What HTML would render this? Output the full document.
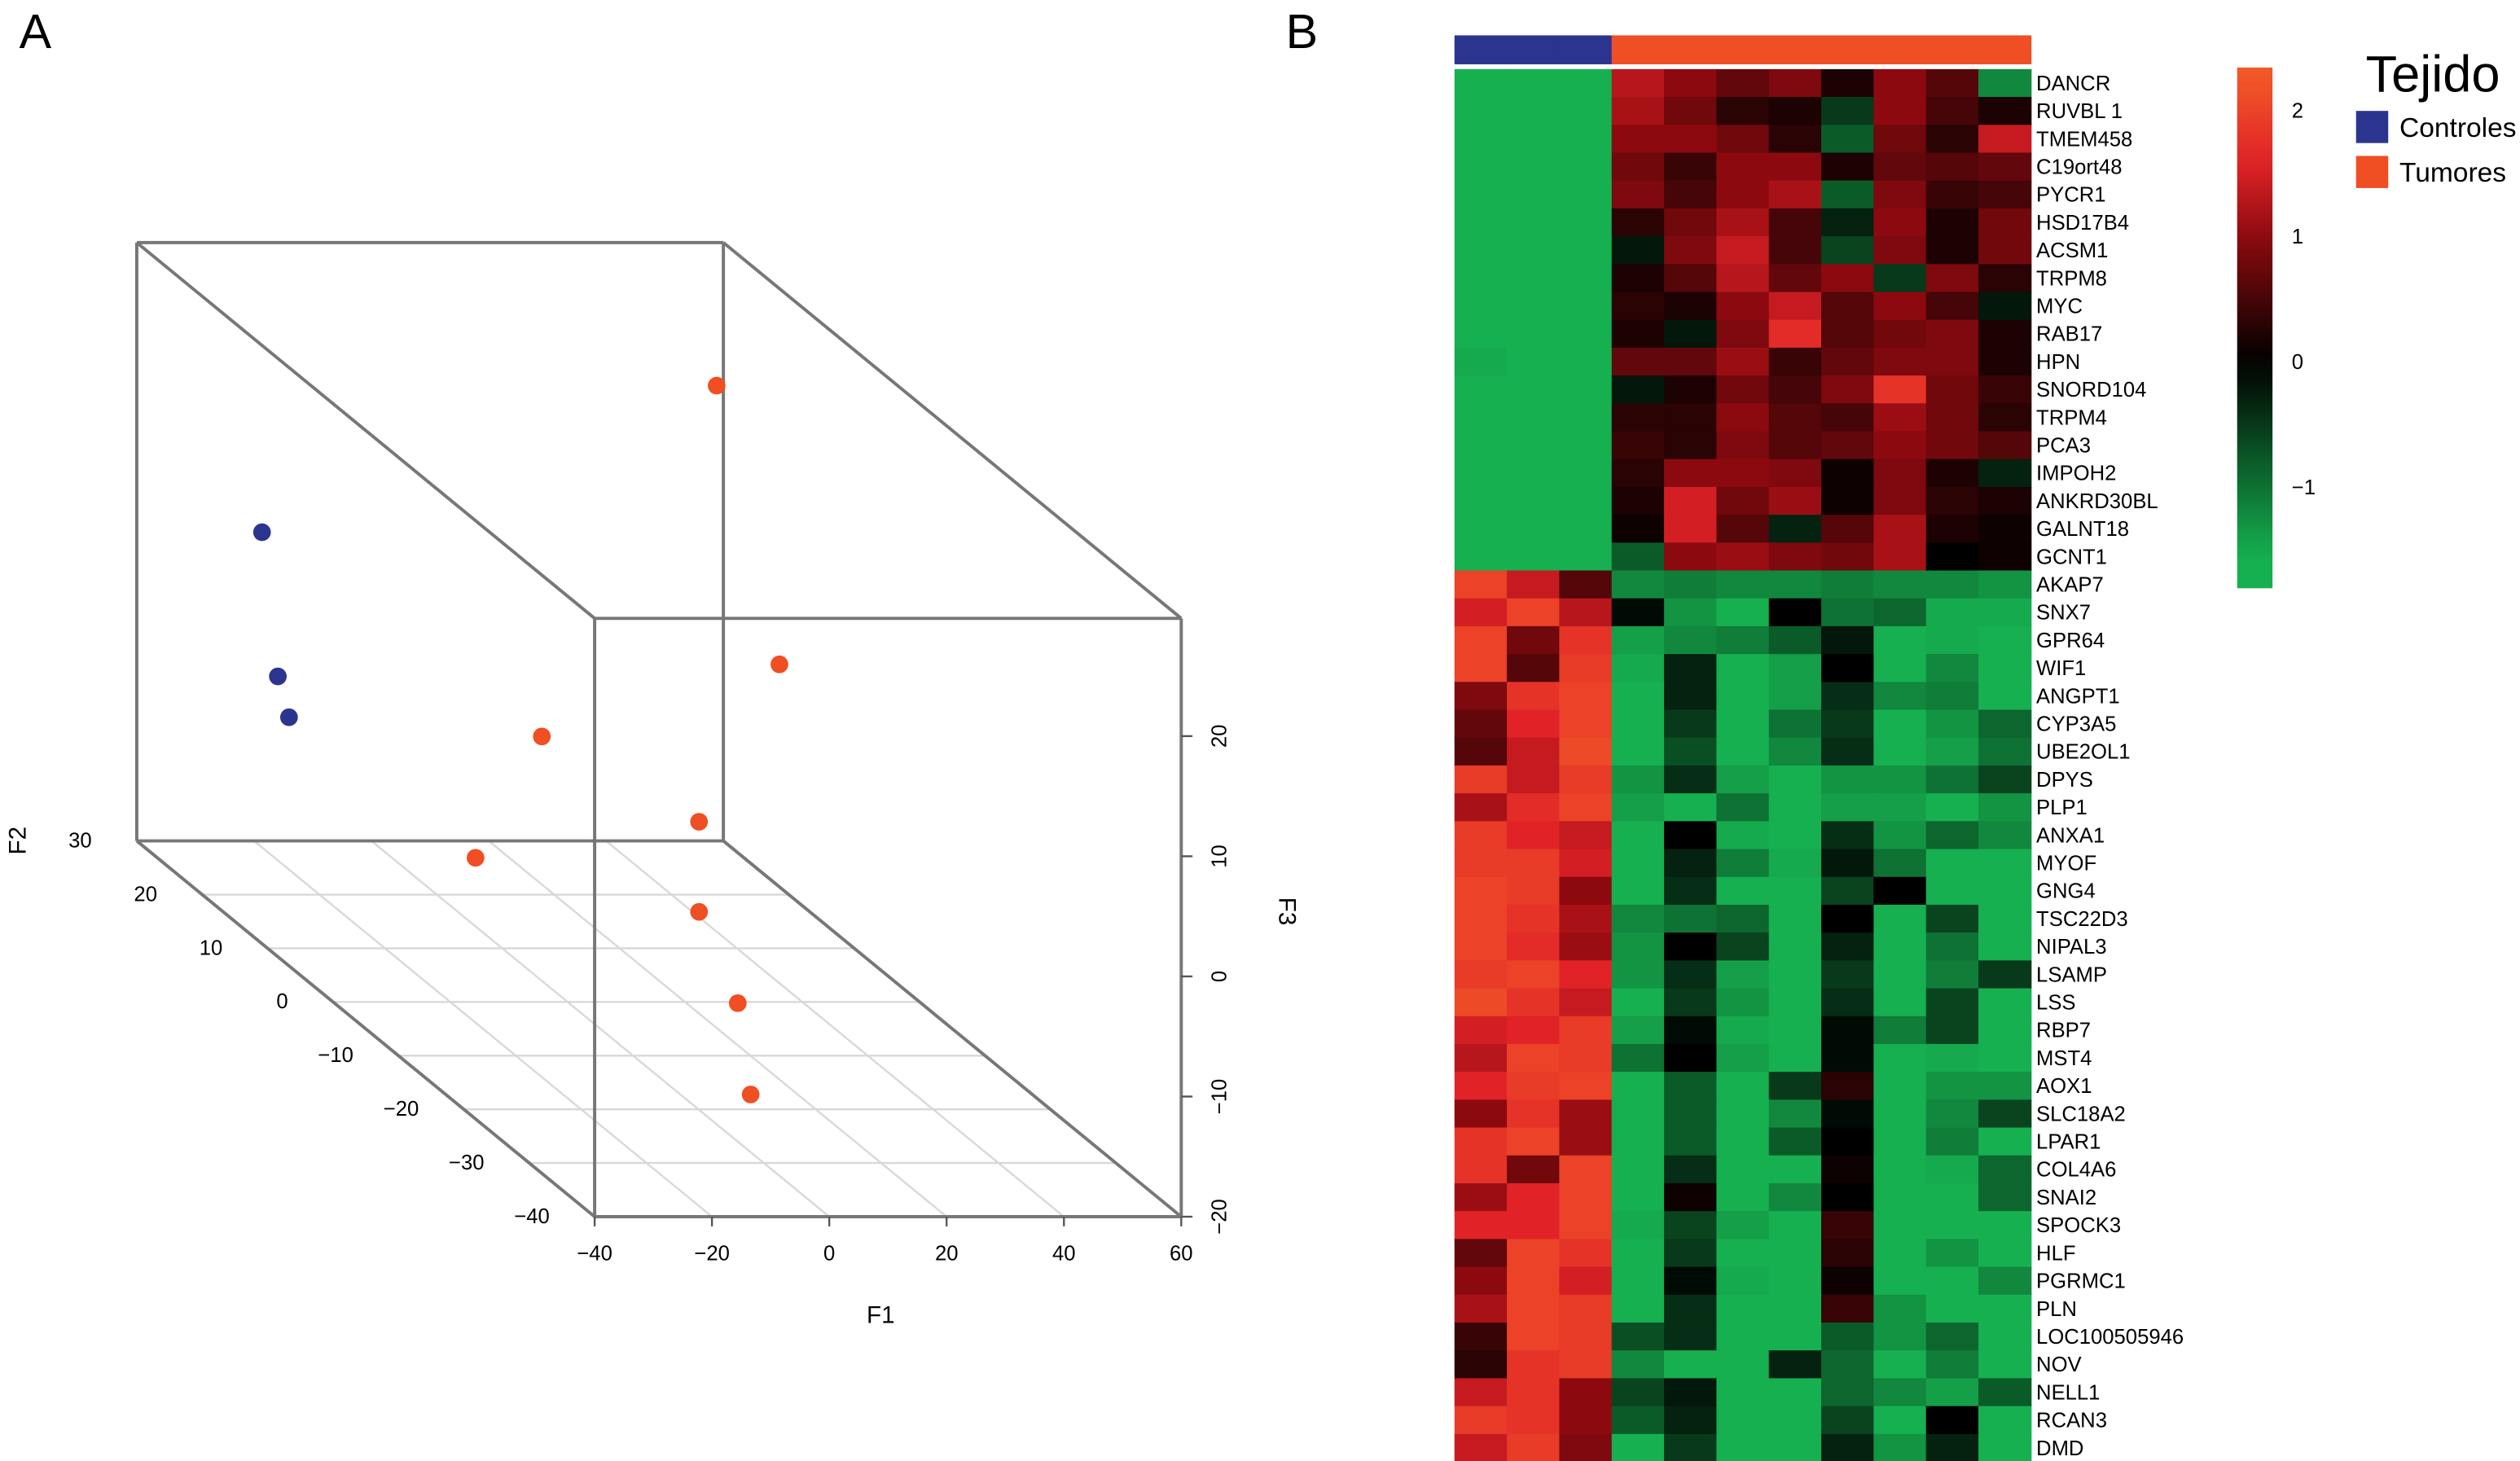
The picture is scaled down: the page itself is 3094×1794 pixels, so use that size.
<!DOCTYPE html>
<html><head><meta charset="utf-8">
<style>
html,body{margin:0;padding:0;background:#fff;}
svg{display:block;}
text{font-family:"Liberation Sans",Arial,sans-serif;}
</style></head>
<body>
<svg id="fig" width="3094" height="1794" viewBox="0 0 1568 909" preserveAspectRatio="none" xmlns="http://www.w3.org/2000/svg">
<rect width="1568" height="909" fill="#fff"/>
<text x="12" y="30" font-size="30">A</text>
<text x="800" y="30" font-size="30">B</text>
<g id="pca"></g>
<g id="heat"></g>
</svg>
<script>
// ---------- PCA data ----------
const redF1 = [25.4, 36.1, -4.4, 22.4, -15.7, 22.4, 29.0, 31.2];
const redF2 = [0, 0, 0, 0, 0, 0, 0, 0];
const redF3 = [31.3, 8.1, 2.1, -5.0, -8.0, -12.5, -20.1, -27.7];
const blueF1 = [-52.1, -49.4, -47.5];
const blueF2 = [0, 0, 0];
const blueF3 = [19.1, 7.1, 3.7];
const f1Ticks = [-40, -20, 0, 20, 40, 60];
const f2Ticks = [30, 20, 10, 0, -10, -20, -30, -40];
const f3Ticks = [20, 10, 0, -10, -20];

// ---------- Heatmap data ----------
const genes = ["DANCR","RUVBL 1","TMEM458","C19ort48","PYCR1","HSD17B4","ACSM1","TRPM8","MYC","RAB17","HPN","SNORD104","TRPM4","PCA3","IMPOH2","ANKRD30BL","GALNT18","GCNT1","AKAP7","SNX7","GPR64","WIF1","ANGPT1","CYP3A5","UBE2OL1","DPYS","PLP1","ANXA1","MYOF","GNG4","TSC22D3","NIPAL3","LSAMP","LSS","RBP7","MST4","AOX1","SLC18A2","LPAR1","COL4A6","SNAI2","SPOCK3","HLF","PGRMC1","PLN","LOC100505946","NOV","NELL1","RCAN3","DMD"];
const groups = ["C","C","C","T","T","T","T","T","T","T","T"];
const values = [
[-1.6,-1.6,-1.6, 1.3,1.0,0.7,0.9,0.2,1.0,0.6,-1.2],
[-1.6,-1.6,-1.6, 1.2,0.8,0.3,0.2,-0.5,1.0,0.5,0.2],
[-1.6,-1.6,-1.6, 1.0,1.0,0.8,0.3,-0.8,0.8,0.3,1.4],
[-1.6,-1.6,-1.7, 0.8,0.4,1.0,1.0,0.2,0.7,0.6,0.7],
[-1.6,-1.6,-1.6, 0.9,0.5,1.0,1.2,-0.8,0.9,0.4,0.5],
[-1.6,-1.6,-1.6, 0.3,0.8,1.2,0.5,-0.3,1.0,0.2,0.8],
[-1.6,-1.6,-1.6, -0.2,0.9,1.4,0.5,-0.6,0.9,0.2,0.8],
[-1.6,-1.6,-1.6, 0.2,0.6,1.3,0.7,1.0,-0.5,0.9,0.3],
[-1.6,-1.6,-1.6, 0.3,0.2,1.0,1.4,0.6,1.0,0.5,-0.2],
[-1.6,-1.6,-1.6, 0.2,-0.2,0.9,1.7,0.6,0.8,0.9,0.2],
[-1.5,-1.6,-1.6, 0.7,0.7,1.1,0.4,0.7,0.9,0.9,0.2],
[-1.6,-1.6,-1.6, -0.2,0.2,0.8,0.5,0.9,1.8,0.8,0.4],
[-1.6,-1.6,-1.6, 0.3,0.3,1.0,0.6,0.5,1.1,0.8,0.3],
[-1.6,-1.6,-1.6, 0.4,0.3,0.9,0.6,0.7,1.0,0.8,0.6],
[-1.6,-1.6,-1.6, 0.3,1.0,1.0,0.9,0.1,0.9,0.2,-0.3],
[-1.6,-1.6,-1.6, 0.2,1.5,0.8,1.1,0.1,0.9,0.3,0.2],
[-1.6,-1.6,-1.6, 0.1,1.5,0.6,-0.3,0.6,1.2,0.2,0.1],
[-1.6,-1.6,-1.6, -0.8,1.0,1.1,0.9,0.8,1.2,0.0,0.1],
[2.0,1.4,0.6, -1.2,-1.1,-1.2,-1.2,-1.1,-1.2,-1.2,-1.3],
[1.5,2.0,1.3, -0.1,-1.3,-1.6,0.0,-1.0,-0.9,-1.5,-1.5],
[2.0,0.8,1.8, -1.4,-1.2,-1.1,-0.8,-0.2,-1.6,-1.5,-1.6],
[2.0,0.6,1.9, -1.5,-0.3,-1.6,-1.4,0.0,-1.6,-1.2,-1.6],
[0.9,1.8,2.0, -1.6,-0.3,-1.6,-1.4,-0.4,-1.2,-1.1,-1.6],
[0.7,1.6,2.0, -1.6,-0.5,-1.6,-1.0,-0.5,-1.6,-1.3,-0.9],
[0.6,1.4,2.1, -1.6,-0.7,-1.6,-1.2,-0.4,-1.6,-1.4,-1.0],
[1.9,1.4,1.9, -1.3,-0.4,-1.4,-1.6,-1.3,-1.3,-1.0,-0.6],
[1.2,1.7,2.0, -1.4,-1.6,-1.0,-1.6,-1.4,-1.4,-1.6,-1.3],
[1.9,1.6,1.4, -1.6,0.0,-1.5,-1.6,-0.4,-1.3,-0.9,-1.2],
[1.9,1.9,1.5, -1.6,-0.3,-1.1,-1.5,-0.2,-1.0,-1.6,-1.6],
[2.0,1.9,1.0, -1.6,-0.4,-1.6,-1.6,-0.6,0.0,-1.6,-1.6],
[2.0,1.8,1.2, -1.2,-1.0,-0.9,-1.6,0.0,-1.6,-0.6,-1.6],
[2.0,1.7,1.1, -1.3,0.0,-0.6,-1.6,-0.3,-1.6,-1.0,-1.6],
[1.9,2.0,1.6, -1.3,-0.4,-1.4,-1.6,-0.5,-1.6,-1.1,-0.5],
[2.1,1.8,1.4, -1.6,-0.5,-1.3,-1.6,-0.4,-1.6,-0.6,-1.6],
[1.5,1.6,1.9, -1.4,-0.1,-1.5,-1.6,-0.1,-1.1,-0.6,-1.6],
[1.3,2.0,1.9, -1.0,0.0,-1.4,-1.6,-0.1,-1.6,-1.5,-1.6],
[1.6,1.9,2.0, -1.6,-0.8,-1.6,-0.5,0.3,-1.6,-1.3,-1.3],
[1.0,1.8,1.1, -1.6,-0.8,-1.6,-1.2,-0.1,-1.6,-1.2,-0.6],
[1.8,2.0,1.1, -1.6,-0.8,-1.6,-0.8,0.0,-1.6,-1.1,-1.6],
[1.8,0.8,2.0, -1.6,-0.4,-1.6,-1.6,0.1,-1.6,-1.5,-0.9],
[1.1,1.6,2.0, -1.6,0.1,-1.6,-1.2,0.0,-1.6,-1.6,-0.9],
[1.6,1.6,2.0, -1.5,-0.6,-1.4,-1.6,0.4,-1.6,-1.6,-1.6],
[0.7,2.0,1.8, -1.6,-0.5,-1.6,-1.6,0.3,-1.6,-1.3,-1.6],
[1.0,2.0,1.5, -1.6,-0.1,-1.5,-1.6,0.1,-1.6,-1.6,-1.2],
[1.2,2.0,1.9, -1.6,-0.4,-1.6,-1.6,0.4,-1.3,-1.6,-1.6],
[0.4,2.0,1.9, -0.7,-0.4,-1.6,-1.6,-0.8,-1.3,-0.9,-1.6],
[0.3,1.8,1.9, -1.2,-1.6,-1.6,-0.3,-0.9,-1.6,-1.1,-1.6],
[1.4,1.8,1.0, -0.6,-0.2,-1.6,-1.6,-0.9,-1.2,-1.4,-0.8],
[1.9,1.8,1.0, -0.8,-0.3,-1.6,-1.6,-0.6,-1.6,0.0,-1.6],
[1.4,1.9,0.9, -1.6,-0.5,-1.6,-1.6,-0.3,-1.3,-0.3,-1.6]
];
const legendTicks = [2, 1, 0, -1];
const legendLabels = ["2", "1", "0", "\u22121"];

const NS = "http://www.w3.org/2000/svg";
function mk(tag, attrs, parent) {
  const e = document.createElementNS(NS, tag);
  for (const k in attrs) e.setAttribute(k, attrs[k]);
  parent.appendChild(e);
  return e;
}
function fmt(v){ return v < 0 ? "\u2212" + Math.abs(v) : String(v); }

// ---------- PCA ----------
const pca = document.getElementById("pca");
function proj(f1, f2, f3) {
  return [370 + (f1 + 40) * 3.65 - (f2 + 40) * 4.07,
          757 - (f3 + 20) * 7.475 - (f2 + 40) * 3.34];
}
function line(a, b, stroke, w, name) {
  const l = mk("line", {x1:a[0], y1:a[1], x2:b[0], y2:b[1], stroke:stroke, "stroke-width":w}, pca);
  
  
}
const F3TOP = 29.8;
f2Ticks.forEach(t => { line(proj(-40, t, -20), proj(60, t, -20), "#d8d8d8", 1.2, "floor-grid-f2"); });
f1Ticks.forEach(t => { line(proj(t, -40, -20), proj(t, 30, -20), "#d8d8d8", 1.2, "floor-grid-f1"); });
const BC = "#777";
const b = [proj(-40,30,-20), proj(60,30,-20), proj(60,30,F3TOP), proj(-40,30,F3TOP)];
const f = [proj(-40,-40,-20), proj(60,-40,-20), proj(60,-40,F3TOP), proj(-40,-40,F3TOP)];
for (let i = 0; i < 4; i++) {
  line(b[i], b[(i+1)%4], BC, 2, "box-back-edge");
  line(b[i], f[i], BC, 2, "box-depth-edge");
}
line(f[0], f[1], BC, 2, "box-front-edge");
line(f[1], f[2], BC, 2, "box-front-edge");
line(f[2], f[3], BC, 2, "box-front-edge");
line(f[0], f[3], BC, 2, "box-front-edge");
f1Ticks.forEach(t => {
  const p = proj(t, -40, -20);
  line(p, [p[0], p[1] + 6], "#555", 1.2, "f1-tick");
  const tx = mk("text", {x:p[0], y:p[1] + 27, "font-size":13, "text-anchor":"middle"}, pca);
  tx.textContent = fmt(t);
  
  
});
f3Ticks.forEach(t => {
  const p = proj(60, -40, t);
  line(p, [p[0] + 7, p[1]], "#555", 1.2, "f3-tick");
  const tx = mk("text", {x:p[0] + 28, y:p[1], "font-size":13, "text-anchor":"middle", transform:`rotate(-90 ${p[0]+28} ${p[1]})`}, pca);
  tx.textContent = fmt(t);
  
  
});
f2Ticks.forEach(t => {
  const p = proj(-40, t, -20);
  const tx = mk("text", {x:p[0] - 28, y:p[1] + 4, "font-size":13, "text-anchor":"end"}, pca);
  tx.textContent = fmt(t);
  
  
});
let t;
t = mk("text", {x:548, y:823, "font-size":15, "text-anchor":"middle"}, pca); t.textContent = "F1";
 
t = mk("text", {x:16, y:523, "font-size":15, "text-anchor":"middle", transform:"rotate(-90 16 523)"}, pca); t.textContent = "F2";
 
t = mk("text", {x:796, y:567, "font-size":15, "text-anchor":"middle", transform:"rotate(90 796 567)"}, pca); t.textContent = "F3";
 
redF1.forEach((v, i) => {
  const p = proj(v, redF2[i], redF3[i]);
  const c = mk("circle", {cx:p[0], cy:p[1], r:5.5, fill:"#f04e23"}, pca);
  
  
});
blueF1.forEach((v, i) => {
  const p = proj(v, blueF2[i], blueF3[i]);
  const c = mk("circle", {cx:p[0], cy:p[1], r:5.5, fill:"#2b3590"}, pca);
  
  
});

// ---------- Heatmap ----------
const heat = document.getElementById("heat");
function lerp(a, b, t){ return a.map((v,i)=>Math.round(v+(b[i]-v)*t)); }
function color(v) {
  let c;
  if (v >= 0) {
    if (v <= 1) c = lerp([0,0,0],[140,10,15],v);
    else if (v <= 1.6) c = lerp([140,10,15],[225,35,40],(v-1)/0.6);
    else c = lerp([225,35,40],[242,90,40],Math.min(1,(v-1.6)/0.7));
  } else {
    c = lerp([0,0,0],[22,176,80],Math.min(1,-v/1.55));
  }
  return `rgb(${c[0]},${c[1]},${c[2]})`;
}
const hx0 = 905, cw = 32.6, hy0 = 43, rh = 17.33;
groups.forEach((g, j) => {
  const r = mk("rect", {x:hx0 + j*cw, y:22, width:cw + 0.4, height:18, fill: g === "C" ? "#2b3590" : "#f04e23"}, heat);
  
  
});
values.forEach((row, i) => {
  row.forEach((v, j) => {
    const r = mk("rect", {x:hx0 + j*cw, y:hy0 + i*rh, width:cw + 0.5, height:rh + 0.5, fill:color(v)}, heat);
    
    
  });
  const tx = mk("text", {x:1267, y:hy0 + i*rh + rh/2 + 4.5, "font-size":13}, heat);
  tx.textContent = genes[i];
  
  
});
const lgTop = 42, lgBot = 366, vMax = 2.35, vMin = -1.8;
const defs = mk("defs", {}, heat);
const grad = mk("linearGradient", {id:"lg", x1:0, y1:0, x2:0, y2:1}, defs);
for (let k = 0; k <= 20; k++) {
  const v = vMax - (vMax - vMin) * k / 20;
  mk("stop", {offset:k/20, "stop-color":color(v)}, grad);
}
const lb = mk("rect", {x:1392, y:lgTop, width:22, height:lgBot - lgTop, fill:"url(#lg)"}, heat);


legendTicks.forEach((v, k) => {
  const y = lgTop + (vMax - v) / (vMax - vMin) * (lgBot - lgTop);
  const tx = mk("text", {x:1426, y:y + 4, "font-size":13}, heat);
  tx.textContent = legendLabels[k];
  
  
});
t = mk("text", {x:1472, y:57, "font-size":32}, heat); t.textContent = "Tejido";
 
let s = mk("rect", {x:1466, y:69, width:20, height:20, fill:"#2b3590"}, heat);
 
t = mk("text", {x:1493, y:85, "font-size":17}, heat); t.textContent = "Controles";
 
s = mk("rect", {x:1466, y:97, width:20, height:20, fill:"#f04e23"}, heat);
 
t = mk("text", {x:1493, y:113, "font-size":17}, heat); t.textContent = "Tumores";
 
</script>
</body></html>
